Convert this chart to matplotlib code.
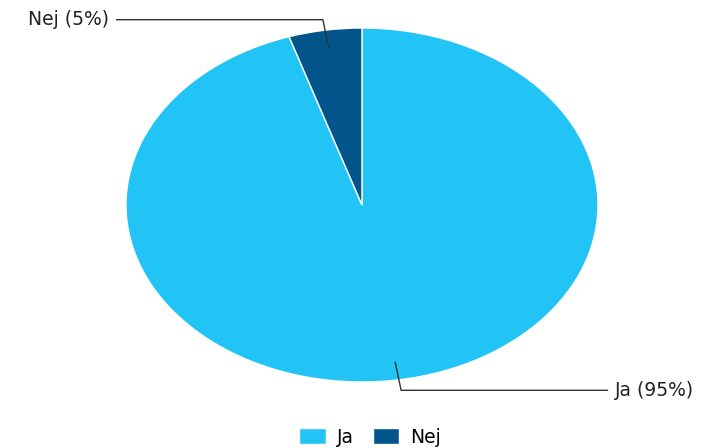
import numpy as np
import matplotlib.pyplot as plt

plt.rcParams['font.family'] = ['DejaVu Sans']

# answer shares (percent)
labels = ['Ja', 'Nej']
values = [95, 5]
colors = ['#21C4F4', '#02558B']

fig = plt.figure(figsize=(7.13, 4.48), dpi=100)
ax = fig.add_axes([126 / 713, 1 - 382 / 448, 472 / 713, 354 / 448])

wedges, _ = ax.pie(values, colors=colors, startangle=90, counterclock=False,
                   wedgeprops=dict(edgecolor='white', linewidth=1))
ax.set_aspect('auto')
ax.set_xlim(-1, 1)
ax.set_ylim(-1, 1)
ax.axis('off')

# leader lines with an elbow, then horizontal out to the label
for w, lab, val in zip(wedges, labels, values):
    mid = np.deg2rad((w.theta1 + w.theta2) / 2)
    c, s = np.cos(mid), np.sin(mid)
    side = np.sign(c)
    x0, y0 = 0.9 * c, 0.9 * s
    x1, y1 = 1.06 * c, 1.06 * s
    x2 = side * 1.04
    ax.plot([x0, x1, x2], [y0, y1, y1], color='#333333', lw=1, clip_on=False)
    ax.text(x2 + side * 0.03, y1, f'{lab} ({val}%)', ha='left' if side > 0 else 'right',
            va='center', fontsize=13.5, color='#222222', clip_on=False)

fig.legend(wedges, labels, loc='center', bbox_to_anchor=(370 / 713, 1 - 437 / 448),
           ncol=2, frameon=False, fontsize=13.5, handlelength=1.4, handleheight=0.95,
           columnspacing=1.0, handletextpad=0.6)

fig.savefig('out.png', dpi=100)
